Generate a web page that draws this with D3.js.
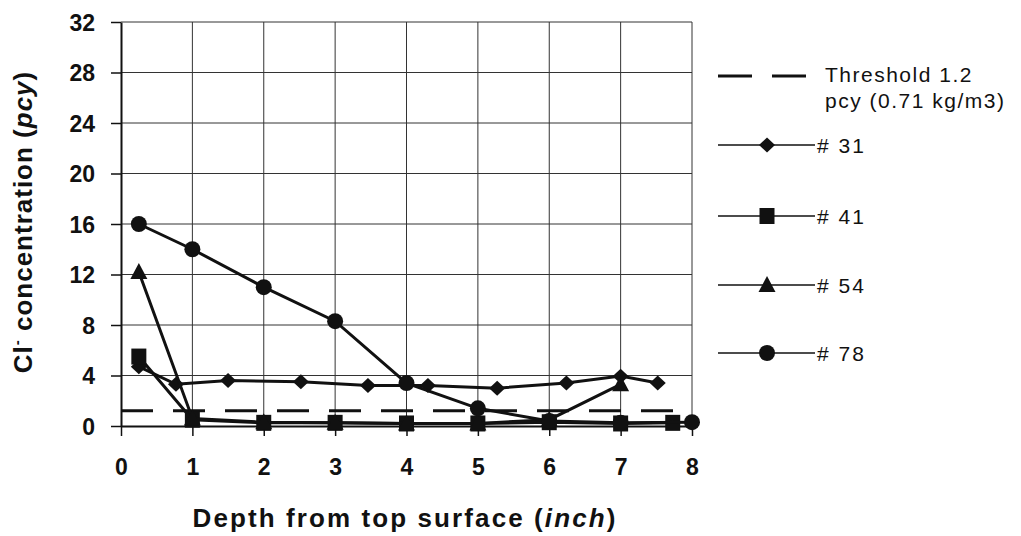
<!DOCTYPE html>
<html>
<head>
<meta charset="utf-8">
<script src="https://cdn.jsdelivr.net/npm/d3@7"></script>
<style>
  html, body { margin: 0; padding: 0; background: #fff; }
  svg { display: block; font-family: "Liberation Sans", Arial, sans-serif; }
</style>
</head>
<body>
<div id="chart"></div>
<script>
// values
const xTicks = [0, 1, 2, 3, 4, 5, 6, 7, 8];
const yTicks = [0, 4, 8, 12, 16, 20, 24, 28, 32];
const threshold = 1.2;

const s31 = [[0.25, 4.7], [0.77, 3.3], [1.5, 3.6], [2.52, 3.5], [3.46, 3.2], [4.3, 3.2], [5.27, 3.0], [6.24, 3.4], [7.0, 3.95], [7.52, 3.4]];
const s41 = [[0.25, 5.5], [1, 0.5], [2, 0.25], [3, 0.25], [4, 0.2], [5, 0.2], [6, 0.3], [7, 0.2], [7.73, 0.25]];
const s54 = [[0.25, 12.2], [1, 0.6], [2, 0.3], [3, 0.25], [4, 0.2], [5, 0.2], [6, 0.5], [7, 3.3]];
const s78 = [[0.25, 16], [1, 14], [2, 11], [3, 8.3], [4, 3.4], [5, 1.4], [6, 0.4], [7, 0.25], [8, 0.3]];

const series = [
  { name: '# 31', data: s31, marker: 'diamond' },
  { name: '# 41', data: s41, marker: 'square' },
  { name: '# 54', data: s54, marker: 'triangle' },
  { name: '# 78', data: s78, marker: 'circle' },
];

const width = 1021, height = 536;
const m = { left: 121, right: 329, top: 22, bottom: 110 };
const ink = '#111';

const svg = d3.select('#chart').append('svg').attr('width', width).attr('height', height);

const x = d3.scaleLinear().domain([0, 8]).range([m.left, width - m.right]);
const y = d3.scaleLinear().domain([0, 32]).range([height - m.bottom, m.top]);

// grid
svg.append('g').selectAll('line').data(xTicks.slice(1)).join('line')
  .attr('x1', d => x(d)).attr('x2', d => x(d)).attr('y1', y(32)).attr('y2', y(0))
  .attr('stroke', '#333').attr('stroke-width', 1);
svg.append('g').selectAll('line').data(yTicks.slice(1)).join('line')
  .attr('x1', x(0)).attr('x2', x(8)).attr('y1', d => y(d)).attr('y2', d => y(d))
  .attr('stroke', '#333').attr('stroke-width', 1);

// axes
const xAxis = svg.append('g').attr('transform', `translate(0,${y(0)})`)
  .call(d3.axisBottom(x).tickValues(xTicks).tickSize(10).tickSizeOuter(0));
const yAxis = svg.append('g').attr('transform', `translate(${x(0)},0)`)
  .call(d3.axisLeft(y).tickValues(yTicks).tickSize(10).tickSizeOuter(0));
[xAxis, yAxis].forEach(g => {
  g.select('.domain').attr('stroke', ink).attr('stroke-width', 2);
  g.selectAll('.tick line').attr('stroke', ink).attr('stroke-width', 1.5);
  g.selectAll('.tick text').attr('fill', ink).attr('font-size', 23).attr('font-weight', 'bold')
    .attr('font-family', '"Liberation Sans", Arial, sans-serif');
});
xAxis.selectAll('.tick text').attr('y', 49).attr('dy', 0);
yAxis.selectAll('.tick text').attr('x', -26).attr('dy', '0.36em');

// threshold
svg.append('line')
  .attr('x1', x(0)).attr('x2', x(7.75)).attr('y1', y(threshold)).attr('y2', y(threshold))
  .attr('stroke', ink).attr('stroke-width', 3).attr('stroke-dasharray', '32,20');

// markers
function drawMarker(g, type, cx, cy) {
  if (type === 'circle') {
    g.append('circle').attr('cx', cx).attr('cy', cy).attr('r', 8).attr('fill', ink);
  } else if (type === 'square') {
    g.append('rect').attr('x', cx - 7.5).attr('y', cy - 8).attr('width', 15).attr('height', 16).attr('fill', ink);
  } else if (type === 'diamond') {
    g.append('path').attr('d', `M${cx},${cy - 7.5}L${cx + 8},${cy}L${cx},${cy + 7.5}L${cx - 8},${cy}Z`).attr('fill', ink);
  } else if (type === 'triangle') {
    g.append('path').attr('d', `M${cx},${cy - 9}L${cx + 8.5},${cy + 7}L${cx - 8.5},${cy + 7}Z`).attr('fill', ink);
  }
}

const line = d3.line().x(d => x(d[0])).y(d => y(d[1]));
series.forEach(s => {
  const g = svg.append('g');
  g.append('path').datum(s.data).attr('d', line)
    .attr('fill', 'none').attr('stroke', ink).attr('stroke-width', 3);
  s.data.forEach(d => drawMarker(g, s.marker, x(d[0]), y(d[1])));
});

// legend
const lg = svg.append('g');
lg.append('line').attr('x1', 718).attr('x2', 806).attr('y1', 76).attr('y2', 76)
  .attr('stroke', ink).attr('stroke-width', 3).attr('stroke-dasharray', '34,20');
lg.append('text').attr('x', 825).attr('y', 82).attr('font-size', 21).attr('fill', ink)
  .attr('letter-spacing', 1.5).text('Threshold 1.2');
lg.append('text').attr('x', 825).attr('y', 108).attr('font-size', 21).attr('fill', ink)
  .attr('letter-spacing', 1.5).text('pcy (0.71 kg/m3)');
const legendY = [145, 216, 285, 353];
series.forEach((s, i) => {
  const ly = legendY[i];
  lg.append('line').attr('x1', 718).attr('x2', 815).attr('y1', ly).attr('y2', ly)
    .attr('stroke', ink).attr('stroke-width', 1.5);
  drawMarker(lg, s.marker, 767, ly);
  lg.append('text').attr('x', 817).attr('y', ly + 7.5).attr('font-size', 21).attr('fill', ink)
    .attr('letter-spacing', 2).text(s.name);
});

// axis titles
const xt = svg.append('text').attr('x', 405).attr('y', 527).attr('text-anchor', 'middle')
  .attr('font-size', 26).attr('font-weight', 'bold').attr('fill', ink).attr('letter-spacing', 2.1);
xt.append('tspan').text('Depth from top surface (');
xt.append('tspan').attr('font-style', 'italic').text('inch');
xt.append('tspan').text(')');

const yt = svg.append('text').attr('transform', 'translate(32,222) rotate(-90)').attr('text-anchor', 'middle')
  .attr('font-size', 26).attr('font-weight', 'bold').attr('fill', ink).attr('letter-spacing', 1);
yt.append('tspan').text('Cl');
yt.append('tspan').attr('font-size', 15).attr('dy', -10).text('-');
yt.append('tspan').attr('dy', 10).text(' concentration (');
yt.append('tspan').attr('font-style', 'italic').text('pcy');
yt.append('tspan').text(')');
</script>
</body>
</html>
